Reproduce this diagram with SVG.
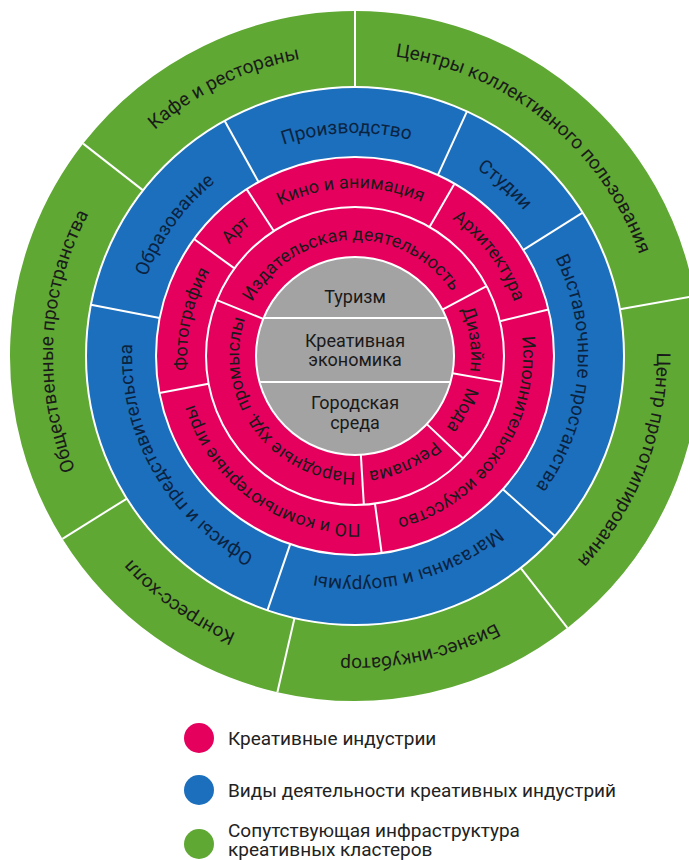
<svg xmlns="http://www.w3.org/2000/svg" width="689" height="860" viewBox="0 0 689 860">
<style>
.seg{fill:none}
.g{stroke:#5fa833;stroke-width:76}
.b{stroke:#1b6fbd;stroke-width:70}
.p{stroke:#e6005e;stroke-width:50}
.gr{fill:#a3a3a3}
text{font-family:Roboto,"Liberation Sans",sans-serif;font-size:18px;fill:#1a1a1a}
.tg{font-size:19px}
.tb{fill:#0c2340;font-size:19px}
.div{stroke:#fff;stroke-width:2;fill:none}
.leg{font-size:19px;fill:#222}
</style>
<defs>
<path id="tg" d="M -302 0 A 302 302 0 0 1 302 0"/>
<path id="tb" d="M -223 0 A 223 223 0 0 1 223 0"/>
<path id="tp2" d="M -168 0 A 168 168 0 0 1 168 0"/>
<path id="tp1" d="M -116 0 A 116 116 0 0 1 116 0"/>
</defs>
<g transform="translate(355 356)">
<g id="infrastructure">
<g id="kafe"><circle class="seg g" r="307" pathLength="360" stroke-dasharray="52 360" transform="rotate(218)"/><text class="tg" transform="rotate(334)" text-anchor="middle"><textPath href="#tg" startOffset="50%">Кафе и рестораны</textPath></text></g>
<g id="centry"><circle class="seg g" r="307" pathLength="360" stroke-dasharray="80 360" transform="rotate(-90)"/><text class="tg" transform="rotate(39)" text-anchor="middle"><textPath href="#tg" startOffset="50%">Центры коллективного пользования</textPath></text></g>
<g id="prototip"><circle class="seg g" r="307" pathLength="360" stroke-dasharray="62 360" transform="rotate(-10)"/><text class="tg" transform="rotate(111)" text-anchor="middle"><textPath href="#tg" startOffset="50%">Центр прототипирования</textPath></text></g>
<g id="biznes"><circle class="seg g" r="307" pathLength="360" stroke-dasharray="51 360" transform="rotate(52)"/><text class="tg" transform="rotate(167.5)" text-anchor="middle"><textPath href="#tg" startOffset="50%">Бизнес-инкубатор</textPath></text></g>
<g id="kongress"><circle class="seg g" r="307" pathLength="360" stroke-dasharray="45 360" transform="rotate(103)"/><text class="tg" transform="rotate(215.5)" text-anchor="middle"><textPath href="#tg" startOffset="50%">Конгресс-холл</textPath></text></g>
<g id="obshch"><circle class="seg g" r="307" pathLength="360" stroke-dasharray="70 360" transform="rotate(148)"/><text class="tg" transform="rotate(273)" text-anchor="middle"><textPath href="#tg" startOffset="50%">Общественные пространства</textPath></text></g>
</g>
<g id="activities">
<g id="obrazovanie"><circle class="seg b" r="234" pathLength="360" stroke-dasharray="50 360" transform="rotate(191)"/><text class="tb" transform="rotate(306)" text-anchor="middle"><textPath href="#tb" startOffset="50%">Образование</textPath></text></g>
<g id="proizvodstvo"><circle class="seg b" r="234" pathLength="360" stroke-dasharray="53.6 360" transform="rotate(241)"/><text class="tb" transform="rotate(357.8)" text-anchor="middle"><textPath href="#tb" startOffset="50%">Производство</textPath></text></g>
<g id="studii"><circle class="seg b" r="234" pathLength="360" stroke-dasharray="33.2 360" transform="rotate(-65.4)"/><text class="tb" transform="rotate(41.2)" text-anchor="middle"><textPath href="#tb" startOffset="50%">Студии</textPath></text></g>
<g id="vystavochnye"><circle class="seg b" r="234" pathLength="360" stroke-dasharray="74.2 360" transform="rotate(-32.2)"/><text class="tb" transform="rotate(94.9)" text-anchor="middle"><textPath href="#tb" startOffset="50%">Выставочные простанства</textPath></text></g>
<g id="magaziny"><circle class="seg b" r="234" pathLength="360" stroke-dasharray="67 360" transform="rotate(42)"/><text class="tb" transform="rotate(165.5)" text-anchor="middle"><textPath href="#tb" startOffset="50%">Магазины и шоурумы</textPath></text></g>
<g id="ofisy"><circle class="seg b" r="234" pathLength="360" stroke-dasharray="82 360" transform="rotate(109)"/><text class="tb" transform="rotate(240)" text-anchor="middle"><textPath href="#tb" startOffset="50%">Офисы и представительства</textPath></text></g>
</g>
<g id="industries-outer">
<g id="foto"><circle class="seg p" r="174" pathLength="360" stroke-dasharray="46.7 360" transform="rotate(169.3)"/><text transform="rotate(282.65)" text-anchor="middle"><textPath href="#tp2" startOffset="50%">Фотография</textPath></text></g>
<g id="art"><circle class="seg p" r="174" pathLength="360" stroke-dasharray="21 360" transform="rotate(216)"/><text transform="rotate(316.5)" text-anchor="middle"><textPath href="#tp2" startOffset="50%">Арт</textPath></text></g>
<g id="kino"><circle class="seg p" r="174" pathLength="360" stroke-dasharray="63 360" transform="rotate(237)"/><text transform="rotate(358.5)" text-anchor="middle"><textPath href="#tp2" startOffset="50%">Кино и анимация</textPath></text></g>
<g id="arhitektura"><circle class="seg p" r="174" pathLength="360" stroke-dasharray="46.5 360" transform="rotate(-60)"/><text transform="rotate(53.25)" text-anchor="middle"><textPath href="#tp2" startOffset="50%">Архитектура</textPath></text></g>
<g id="ispolnitelskoe"><circle class="seg p" r="174" pathLength="360" stroke-dasharray="95.8 360" transform="rotate(-13.5)"/><text transform="rotate(124.4)" text-anchor="middle"><textPath href="#tp2" startOffset="50%">Исполнительское искусство</textPath></text></g>
<g id="po"><circle class="seg p" r="174" pathLength="360" stroke-dasharray="87 360" transform="rotate(82.3)"/><text transform="rotate(215.8)" text-anchor="middle"><textPath href="#tp2" startOffset="50%">ПО и компьютерные игры</textPath></text></g>
</g>
<g id="industries-inner">
<g id="izdatelskaya"><circle class="seg p" r="124" pathLength="360" stroke-dasharray="130 360" transform="rotate(202)"/><text transform="rotate(357)" text-anchor="middle"><textPath href="#tp1" startOffset="50%">Издательская деятельность</textPath></text></g>
<g id="dizain"><circle class="seg p" r="124" pathLength="360" stroke-dasharray="38 360" transform="rotate(-28)"/><text transform="rotate(82)" text-anchor="middle"><textPath href="#tp1" startOffset="50%">Дизайн</textPath></text></g>
<g id="moda"><circle class="seg p" r="124" pathLength="360" stroke-dasharray="33.5 360" transform="rotate(10)"/><text transform="rotate(116.75)" text-anchor="middle"><textPath href="#tp1" startOffset="50%">Мода</textPath></text></g>
<g id="reklama"><circle class="seg p" r="124" pathLength="360" stroke-dasharray="43.1 360" transform="rotate(43.5)"/><text transform="rotate(155.05)" text-anchor="middle"><textPath href="#tp1" startOffset="50%">Реклама</textPath></text></g>
<g id="narodnye"><circle class="seg p" r="124" pathLength="360" stroke-dasharray="115.4 360" transform="rotate(86.6)"/><text transform="rotate(234.3)" text-anchor="middle"><textPath href="#tp1" startOffset="50%">Народные худ. промыслы</textPath></text></g>
</g>
<g id="core">
<g id="turizm"><path class="gr" d="M -91.4 -38 A 99 99 0 0 1 91.4 -38 Z"/><text x="0" y="-53" text-anchor="middle">Туризм</text></g>
<g id="kreativnaya-ekonomika"><path class="gr" d="M -91.4 -38 L 91.4 -38 A 99 99 0 0 1 95.5 26 L -95.5 26 A 99 99 0 0 1 -91.4 -38 Z"/><text text-anchor="middle"><tspan x="0" y="-9">Креативная</tspan><tspan x="0" y="10">экономика</tspan></text></g>
<g id="gorodskaya-sreda"><path class="gr" d="M 95.5 26 A 99 99 0 0 1 -95.5 26 Z"/><text text-anchor="middle"><tspan x="0" y="53">Городская</tspan><tspan x="0" y="73">среда</tspan></text></g>
</g>
<g id="dividers" class="div">
<circle r="99"/><circle r="149"/><circle r="199"/><circle r="269"/>
<line x1="-91.4" y1="-38" x2="91.4" y2="-38"/>
<line x1="-95.5" y1="26" x2="95.5" y2="26"/>
<g>
<line x1="0" y1="-269" x2="0" y2="-345" transform="rotate(0)"/>
<line x1="0" y1="-269" x2="0" y2="-345" transform="rotate(80)"/>
<line x1="0" y1="-269" x2="0" y2="-345" transform="rotate(142)"/>
<line x1="0" y1="-269" x2="0" y2="-345" transform="rotate(193)"/>
<line x1="0" y1="-269" x2="0" y2="-345" transform="rotate(238)"/>
<line x1="0" y1="-269" x2="0" y2="-345" transform="rotate(308)"/>
</g>
<g>
<line x1="0" y1="-199" x2="0" y2="-269" transform="rotate(24.6)"/>
<line x1="0" y1="-199" x2="0" y2="-269" transform="rotate(57.8)"/>
<line x1="0" y1="-199" x2="0" y2="-269" transform="rotate(132)"/>
<line x1="0" y1="-199" x2="0" y2="-269" transform="rotate(199)"/>
<line x1="0" y1="-199" x2="0" y2="-269" transform="rotate(281)"/>
<line x1="0" y1="-199" x2="0" y2="-269" transform="rotate(331)"/>
</g>
<g>
<line x1="0" y1="-149" x2="0" y2="-199" transform="rotate(30)"/>
<line x1="0" y1="-149" x2="0" y2="-199" transform="rotate(76.5)"/>
<line x1="0" y1="-149" x2="0" y2="-199" transform="rotate(172.3)"/>
<line x1="0" y1="-149" x2="0" y2="-199" transform="rotate(259.3)"/>
<line x1="0" y1="-149" x2="0" y2="-199" transform="rotate(306)"/>
<line x1="0" y1="-149" x2="0" y2="-199" transform="rotate(327)"/>
</g>
<g>
<line x1="0" y1="-99" x2="0" y2="-149" transform="rotate(62)"/>
<line x1="0" y1="-99" x2="0" y2="-149" transform="rotate(100)"/>
<line x1="0" y1="-99" x2="0" y2="-149" transform="rotate(133.5)"/>
<line x1="0" y1="-99" x2="0" y2="-149" transform="rotate(176.6)"/>
<line x1="0" y1="-99" x2="0" y2="-149" transform="rotate(292)"/>
</g>
</g>
</g>
<g id="legend">
<g id="legend-industries"><circle cx="199" cy="738" r="15" fill="#e6005e"/><text class="leg" x="228" y="745">Креативные индустрии</text></g>
<g id="legend-activities"><circle cx="199" cy="790" r="15" fill="#1b6fbd"/><text class="leg" x="228" y="797">Виды деятельности креативных индустрий</text></g>
<g id="legend-infrastructure"><circle cx="199" cy="844" r="15" fill="#5fa833"/><text class="leg"><tspan x="228" y="837">Сопутствующая инфраструктура</tspan><tspan x="228" y="856">креативных кластеров</tspan></text></g>
</g>
</svg>
